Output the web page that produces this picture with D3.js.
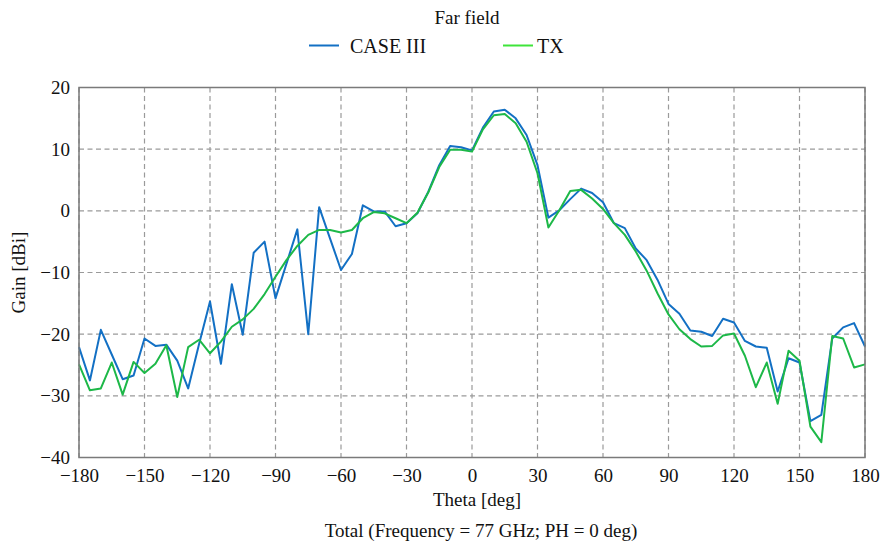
<!DOCTYPE html>
<html>
<head>
<meta charset="utf-8">
<script src="https://cdn.jsdelivr.net/npm/d3@7"></script>
<style>
  html, body { margin: 0; padding: 0; background: #fff; }
  svg { display: block; }
  text { font-family: "Liberation Serif", "Times New Roman", serif; fill: #111; }
</style>
</head>
<body>
<div id="chart"></div>
<script>
// Theta sample points (deg)
const theta = [
  -180, -175, -170, -165, -160, -155, -150, -145, -140, -135, -130, -125,
  -120, -115, -110, -105, -100, -95, -90, -85, -80, -75, -70, -65,
  -60, -55, -50, -45, -40, -35, -30, -25, -20, -15, -10, -5,
  0, 5, 10, 15, 20, 25, 30, 35, 40, 45, 50, 55,
  60, 65, 70, 75, 80, 85, 90, 95, 100, 105, 110, 115,
  120, 125, 130, 135, 140, 145, 150, 155, 160, 165, 170, 175, 180
];

// Gain [dBi], CASE III
const caseIII = [
  -22.1, -27.5, -19.3, -23.3, -27.3, -26.7, -20.7, -21.9, -21.7, -24.3, -28.8, -21.6,
  -14.7, -24.8, -11.9, -20.1, -6.8, -5.0, -14.2, -8.6, -3.0, -20.0, 0.6, -4.5,
  -9.6, -7.0, 0.9, -0.1, -0.1, -2.5, -2.0, -0.4, 3.1, 7.4, 10.5, 10.3,
  9.8, 13.5, 16.1, 16.4, 15.0, 12.3, 7.4, -1.1, 0.1, 1.9, 3.6, 2.9,
  1.4, -2.0, -2.8, -6.1, -8.0, -11.2, -15.1, -16.7, -19.4, -19.6, -20.3, -17.5,
  -18.1, -21.1, -22.0, -22.2, -29.3, -23.9, -24.6, -34.1, -33.1, -20.7, -18.9, -18.2, -22.0
];

// Gain [dBi], TX
const tx = [
  -24.9, -29.1, -28.8, -24.6, -29.8, -24.5, -26.3, -24.8, -21.8, -30.2, -22.1, -20.9,
  -23.1, -21.2, -18.8, -17.6, -15.9, -13.5, -10.7, -8.0, -5.7, -3.9, -3.1, -3.1,
  -3.5, -3.1, -1.2, -0.2, -0.4, -1.2, -2.0, -0.3, 3.0, 7.1, 9.9, 9.9,
  9.6, 13.2, 15.5, 15.7, 14.2, 11.2, 6.1, -2.7, 0.1, 3.2, 3.4, 2.0,
  0.3, -2.0, -3.9, -6.6, -9.7, -13.4, -16.8, -19.2, -20.8, -22.0, -21.9, -20.2,
  -19.9, -23.5, -28.6, -24.6, -31.3, -22.7, -24.3, -35.0, -37.5, -20.3, -20.7, -25.4, -24.9
];

const xTicks = [-180, -150, -120, -90, -60, -30, 0, 30, 60, 90, 120, 150, 180];
const yTicks = [-40, -30, -20, -10, 0, 10, 20];

const series = [
  { name: "CASE III", values: caseIII, color: "#1370c4", key: "#1370c4" },
  { name: "TX", values: tx, color: "#1db848", key: "#3fe43a" }
];

const W = 883, H = 550;
const margin = { top: 87.5, right: 18, bottom: 92.5, left: 79 };
const iw = W - margin.left - margin.right;
const ih = H - margin.top - margin.bottom;

const svg = d3.select("#chart").append("svg")
  .attr("width", W).attr("height", H);

const x = d3.scaleLinear().domain([-180, 180]).range([0, iw]);
const y = d3.scaleLinear().domain([-40, 20]).range([ih, 0]);

const g = svg.append("g").attr("transform", `translate(${margin.left},${margin.top})`);

// dashed grid
g.append("g").selectAll("line").data(xTicks).join("line")
  .attr("x1", d => x(d)).attr("x2", d => x(d))
  .attr("y1", 0).attr("y2", ih)
  .attr("stroke", "#9a9a9a").attr("stroke-width", 1.2)
  .attr("stroke-dasharray", "5,3.5");
g.append("g").selectAll("line").data(yTicks).join("line")
  .attr("x1", 0).attr("x2", iw)
  .attr("y1", d => y(d)).attr("y2", d => y(d))
  .attr("stroke", "#9a9a9a").attr("stroke-width", 1.2)
  .attr("stroke-dasharray", "5,3.5");

// axes (labels only)
const fmt = d3.format("d");
const xAxis = g.append("g").attr("transform", `translate(0,${ih})`)
  .call(d3.axisBottom(x).tickValues(xTicks).tickSize(0).tickPadding(11).tickFormat(fmt));
const yAxis = g.append("g")
  .call(d3.axisLeft(y).tickValues(yTicks).tickSize(0).tickPadding(9).tickFormat(fmt));
[xAxis, yAxis].forEach(a => {
  a.select(".domain").remove();
  a.selectAll("text")
    .style("font-family", '"Liberation Serif", "Times New Roman", serif')
    .style("font-size", "19px").attr("fill", "#111");
});

// series lines
const line = d3.line()
  .x((d, i) => x(theta[i]))
  .y(d => y(d));
series.forEach(s => {
  g.append("path").datum(s.values)
    .attr("fill", "none")
    .attr("stroke", s.color)
    .attr("stroke-width", 2)
    .attr("stroke-linejoin", "round")
    .attr("d", line);
});

// frame
g.append("rect").attr("x", 0).attr("y", 0).attr("width", iw).attr("height", ih)
  .attr("fill", "none").attr("stroke", "#7a7a7a").attr("stroke-width", 1.5);

// title
svg.append("text").attr("x", 467).attr("y", 24).attr("text-anchor", "middle")
  .style("font-size", "19px").text("Far field");

// legend
const legendPos = [{ lx: 309, tx: 350 }, { lx: 503, tx: 537 }];
series.forEach((s, i) => {
  const p = legendPos[i];
  svg.append("line").attr("x1", p.lx).attr("x2", p.lx + 30)
    .attr("y1", 45.5).attr("y2", 45.5)
    .attr("stroke", s.key).attr("stroke-width", 2);
  svg.append("text").attr("x", p.tx).attr("y", 53)
    .style("font-size", "20px").text(s.name);
});

// axis titles
svg.append("text").attr("x", 477).attr("y", 506).attr("text-anchor", "middle")
  .style("font-size", "19px").text("Theta [deg]");
svg.append("text").attr("transform", `translate(25,${margin.top + ih / 2}) rotate(-90)`)
  .attr("text-anchor", "middle").style("font-size", "19px").text("Gain [dBi]");
svg.append("text").attr("x", 481).attr("y", 537).attr("text-anchor", "middle")
  .style("font-size", "19px").text("Total (Frequency = 77 GHz; PH = 0 deg)");
</script>
</body>
</html>
